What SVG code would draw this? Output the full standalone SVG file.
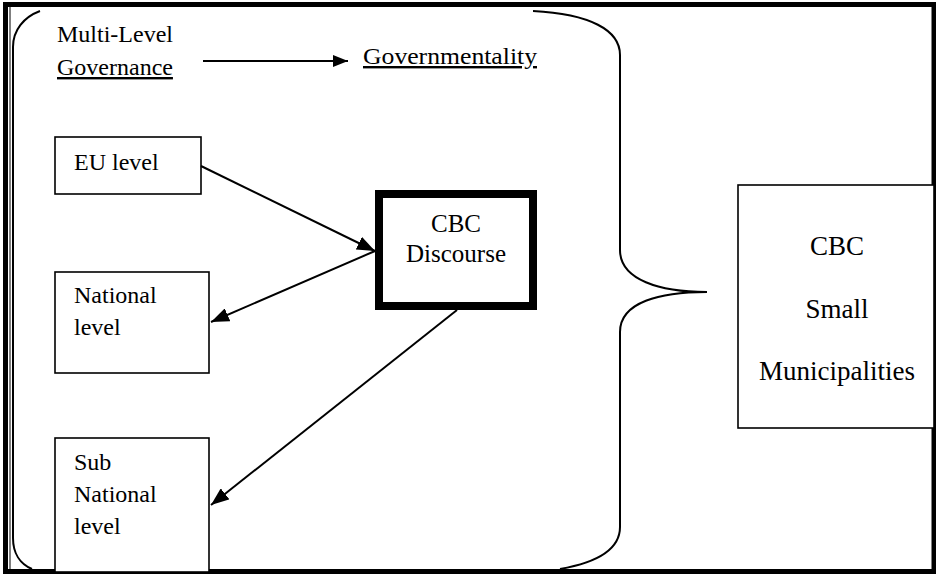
<svg xmlns="http://www.w3.org/2000/svg" width="936" height="574" viewBox="0 0 936 574">
<style>
.t{font-family:"Liberation Serif","Times New Roman",serif;font-size:24px;fill:#000}
.big{font-size:27px}
.c{text-anchor:middle}
.box{fill:#fff;stroke:#000;stroke-width:1.6}
.con{stroke:#000;stroke-width:2;fill:none}
.u{text-decoration:underline}
</style>
<defs>
<marker id="ah" viewBox="0 0 18 14" refX="18" refY="7" markerWidth="18" markerHeight="14" markerUnits="userSpaceOnUse" orient="auto">
<path d="M0,0 L18,7 L0,14 Z" fill="#000"/>
</marker>
<marker id="ah2" viewBox="0 0 15 12" refX="15" refY="6" markerWidth="15" markerHeight="12" markerUnits="userSpaceOnUse" orient="auto">
<path d="M0,0 L15,6 L0,12 Z" fill="#000"/>
</marker>
</defs>
<rect x="0" y="0" width="936" height="574" fill="#fff"/>
<g id="frame">
<rect x="5.5" y="4.5" width="928.5" height="567" fill="none" stroke="#000" stroke-width="5"/>
<line x1="10" y1="7" x2="10" y2="569" stroke="#000" stroke-width="1"/>
</g>
<g id="brace">
<path class="con" d="M40,11 C24,17 13,30 13,47 L13,538 C13,553 20,564 32,569"/>
<path class="con" d="M533,11 C590,14 620,30 620,55 L620,250 C620,280 660,292 707,292 C660,292 620,302 620,332 L620,527 C620,548 600,562 560,569"/>
</g>
<g id="title">
<text class="t" x="57" y="42">Multi-Level</text>
<text class="t u" x="57" y="75">Governance</text>
<text class="t u" x="363" y="64" textLength="174" lengthAdjust="spacingAndGlyphs">Governmentality</text>
</g>
<g id="eu">
<rect class="box" x="55" y="137" width="146" height="57"/>
<text class="t" x="74" y="170">EU level</text>
</g>
<g id="national">
<rect class="box" x="55" y="272" width="154" height="101"/>
<text class="t" x="74" y="303">National</text>
<text class="t" x="74" y="335">level</text>
</g>
<g id="subnational">
<rect class="box" x="55" y="438" width="154" height="134"/>
<text class="t" x="74" y="470">Sub</text>
<text class="t" x="74" y="502">National</text>
<text class="t" x="74" y="534">level</text>
</g>
<g id="cbc-discourse">
<rect x="379" y="194" width="154" height="112" fill="#fff" stroke="#000" stroke-width="8"/>
<text class="t c" x="456" y="232" style="font-size:25px">CBC</text>
<text class="t c" x="456" y="262" style="font-size:25px">Discourse</text>
</g>
<g id="cbc-small">
<rect class="box" x="738" y="185" width="196" height="243"/>
<text class="t big c" x="837" y="255">CBC</text>
<text class="t big c" x="837" y="318">Small</text>
<text class="t big c" x="837" y="380">Municipalities</text>
</g>
<g id="connectors">
<line class="con" x1="203" y1="61" x2="348" y2="61" marker-end="url(#ah2)"/>
<line class="con" x1="201" y1="166" x2="375" y2="251" marker-end="url(#ah)"/>
<line class="con" x1="375" y1="251" x2="211" y2="322" marker-end="url(#ah)"/>
<line class="con" x1="457" y1="310" x2="211" y2="505" marker-end="url(#ah)"/>
</g>
</svg>
